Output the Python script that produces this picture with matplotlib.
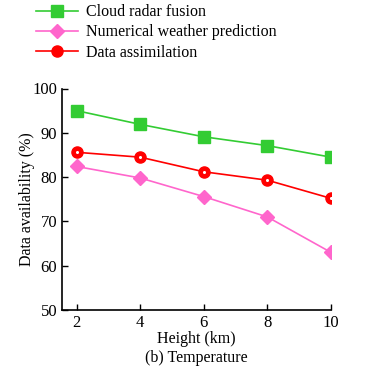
import matplotlib.pyplot as plt

heights = [2, 4, 6, 8, 10]
cloud_radar = [95.0, 91.9, 89.1, 87.1, 84.5]
nwp = [82.4, 79.8, 75.6, 71.0, 63.0]
assimilation = [85.6, 84.5, 81.2, 79.3, 75.2]

plt.rcParams['font.family'] = ['Liberation Serif', 'DejaVu Serif']
plt.rcParams['font.size'] = 10.5

fig = plt.figure(figsize=(3.79, 3.74), dpi=100)
ax = fig.add_axes([62 / 379, 1 - 310 / 374, (331 - 62) / 379, (310 - 88.5) / 374])

ax.plot(heights, cloud_radar, color='#33cc33', lw=1.2, marker='s', ms=9,
        label='Cloud radar fusion')
ax.plot(heights, nwp, color='#ff66cc', lw=1.2, marker='D', ms=7,
        label='Numerical weather prediction')
ax.plot(heights, assimilation, color='#ff0000', lw=1.2, marker='o', ms=8,
        label='Data assimilation')
# small white dot inside the red circles
ax.plot(heights, assimilation, ls='none', marker='o', ms=1.2, color='white')

ax.set_xlim(1.54, 10)
ax.set_ylim(50, 100)
ax.set_xticks(heights)
ax.set_yticks([50, 60, 70, 80, 90, 100])
ax.tick_params(direction='in', length=4, width=1, labelsize=12)
ax.spines['top'].set_visible(False)
ax.spines['right'].set_visible(False)
for s in ('left', 'bottom'):
    ax.spines[s].set_linewidth(1.2)
ax.set_ylabel('Data availability (%)', fontsize=11.5, labelpad=-2)
ax.set_xlabel('Height (km)\n(b) Temperature', fontsize=11.5, labelpad=0,
              linespacing=1.25)

fig.legend(loc='upper left', bbox_to_anchor=(25 / 379, 1 + 7 / 374),
           frameon=False, fontsize=11.5, handlelength=2.6, labelspacing=0.27,
           borderpad=0.2, handletextpad=0.55)

fig.savefig('out.png', dpi=100)
